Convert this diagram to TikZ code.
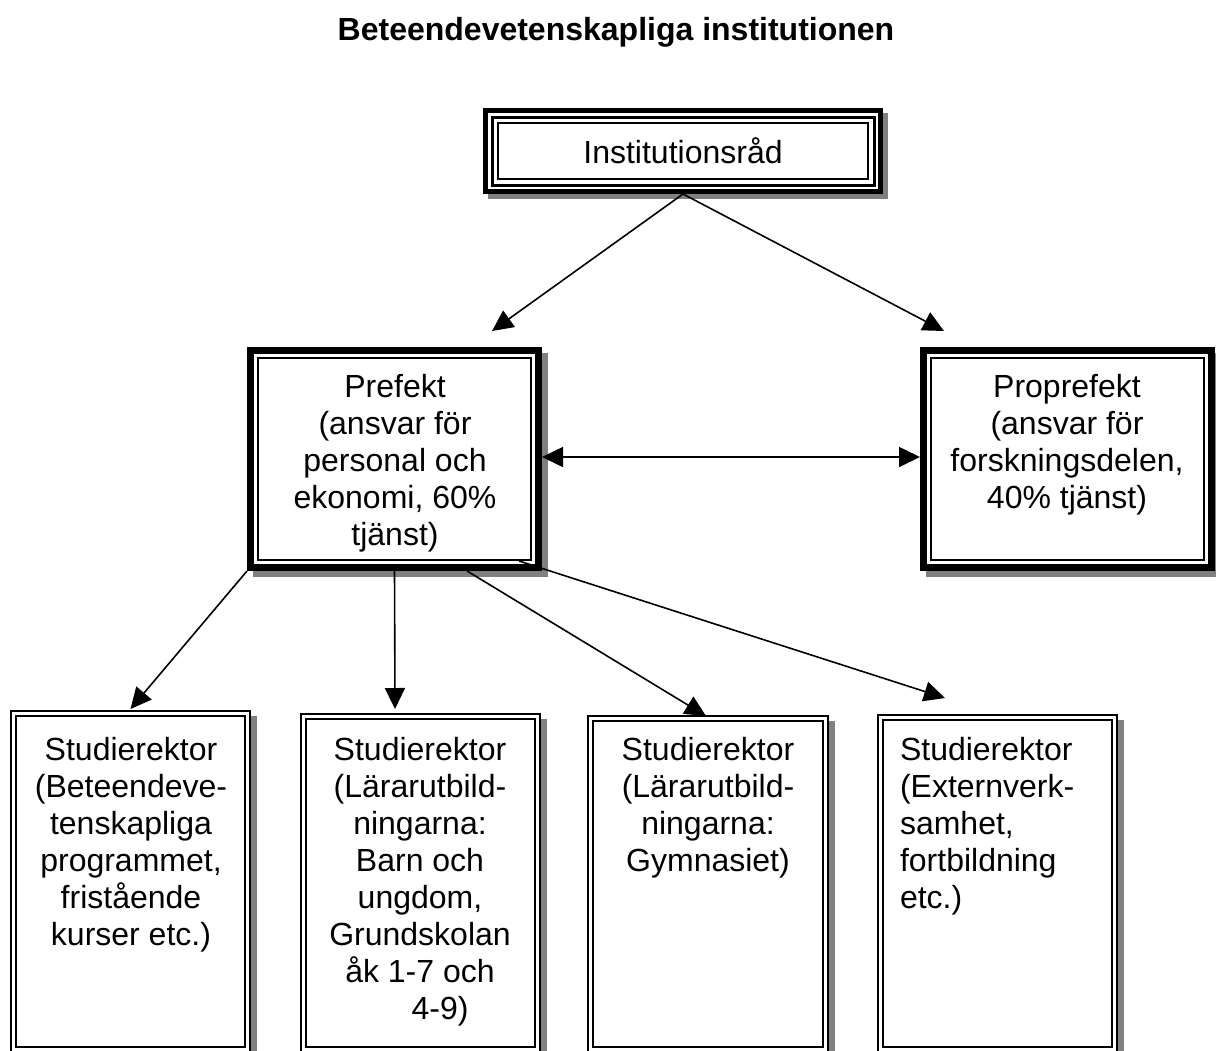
\documentclass[tikz,border=0pt]{standalone}
\usepackage{fontspec}
\setmainfont{Liberation Sans}
\usetikzlibrary{arrows.meta,calc,fit}

% shadow, white ground and one frame line of a box node
\newcommand\orgshadow[2]{\fill[black!50] ([shift={(#2,#2)}]#1.north west) rectangle ([shift={(#2,#2)}]#1.south east);
  \fill[white] (#1.north west) rectangle (#1.south east);}
\newcommand\orgframe[3]{\draw[line width=#3] ([shift={(#2,#2)}]#1.north west) rectangle ([shift={(-#2,-#2)}]#1.south east);}

\begin{document}
\begin{tikzpicture}[x=0.75pt,y=-0.75pt,
  every node/.style={inner sep=0pt, outer sep=0pt},
  txt/.style={font=\fontsize{24pt}{27.75pt}\selectfont, align=center},
  conn/.style={line width=1.2pt, -{Triangle[length=15.75pt,width=15pt]}},
  biconn/.style={line width=1.2pt, {Triangle[length=15.75pt,width=15pt]}-{Triangle[length=15.75pt,width=15pt]}},
]
\useasboundingbox (0,0) rectangle (1216,1050);
\clip (0,0) rectangle (1216,1050);

% title
\node[font=\fontsize{24pt}{27.75pt}\selectfont\bfseries, anchor=base] (title) at (616,40)
  {Beteendevetenskapliga institutionen};

% box areas
\node[fit={(483,108) (883,194)}] (inst) {};
\node[fit={(247,347) (542,571)}] (pref) {};
\node[fit={(920,347) (1215,571)}] (propref) {};
\node[fit={(10,710) (251,1053)}] (s1) {};
\node[fit={(300,713) (541,1053)}] (s2) {};
\node[fit={(587,715) (829,1053)}] (s3) {};
\node[fit={(877,714) (1118,1053)}] (s4) {};

% council: triple frame
\orgshadow{inst}{5}
\orgframe{inst}{2.5}{3.75pt}
\orgframe{inst}{9}{2.25pt}
\orgframe{inst}{15}{1.1pt}
\node[txt, anchor=base] (instt) at (683,163) {Institutionsråd};

% heads: thick-thin frame
\foreach \b in {pref,propref}{
  \orgshadow{\b}{6}
  \orgframe{\b}{3.5}{5.25pt}
  \orgframe{\b}{11}{1.5pt}
}
\node[txt, anchor=north] (preft) at (395,373)
  {\rule{0pt}{18pt}Prefekt\\(ansvar för\\personal och\\ekonomi, 60\%\\tjänst)};
\node[txt, anchor=north] (propreft) at (1067,373)
  {\rule{0pt}{18pt}Proprefekt\\(ansvar för\\forskningsdelen,\\40\% tjänst)};

% connectors
\coordinate (t1) at ($(pref.north west)+(245,-16)$);
\coordinate (t2) at ($(propref.north west)+(24,-16)$);
\draw[conn] (inst.south) -- (t1);
\draw[conn] (inst.south) -- (t2);
\draw[biconn] ($(pref.east)+(0,-2)$) -- ($(propref.west)+(0,-2)$);

\coordinate (p3) at ($(pref.south west)!0.746!(pref.south east)$);
\coordinate (p4) at ($(pref.south east)+(-23,-10)$);
\coordinate (e2) at ($(s2.north west)+(95,-4)$);
\coordinate (e3) at ($(s3.north west)+(119,1)$);
\coordinate (e4) at ($(s4.north west)+(68,-16)$);
\draw[conn] (pref.south west) -- ($(s1.north)+(0,-1)$);
\draw[conn] (pref.south) -- (e2);
\draw[conn] (p3) -- (e3);
\draw[conn] (p4) -- (e4);

% study directors: double frame
\foreach \b in {s1,s2,s3,s4}{
  \orgshadow{\b}{6}
  \orgframe{\b}{1}{1.5pt}
  \orgframe{\b}{6}{1.8pt}
}
\node[txt, anchor=north] (s1t) at (131,736)
  {\rule{0pt}{18pt}Studierektor\\(Beteendeve-\\tenskapliga\\programmet,\\fristående\\kurser etc.)};
\node[txt, anchor=north] (s2t) at (420,736)
  {\rule{0pt}{18pt}Studierektor\\(Lärarutbild-\\ningarna:\\Barn och\\ungdom,\\Grundskolan\\åk 1-7 och\\\hspace*{30pt}4-9)};
\node[txt, anchor=north] (s3t) at (708,736)
  {\rule{0pt}{18pt}Studierektor\\(Lärarutbild-\\ningarna:\\Gymnasiet)};
\node[txt, align=left, anchor=north west] (s4t) at (900,736)
  {\rule{0pt}{18pt}Studierektor\\(Externverk-\\samhet,\\fortbildning\\etc.)};
\end{tikzpicture}
\end{document}
